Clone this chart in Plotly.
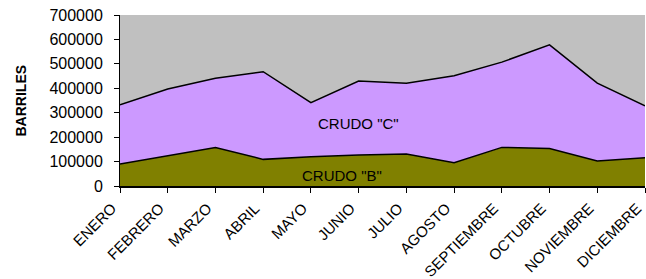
import plotly.graph_objects as go

months = ["ENERO", "FEBRERO", "MARZO", "ABRIL", "MAYO", "JUNIO", "JULIO",
          "AGOSTO", "SEPTIEMBRE", "OCTUBRE", "NOVIEMBRE", "DICIEMBRE"]
crudo_b = [90000, 124000, 158000, 109000, 120000, 127000, 131000,
           95500, 158000, 153000, 102000, 116000]
crudo_c = [242000, 273000, 283000, 359000, 221000, 303000, 290000,
           355500, 349000, 425000, 319000, 212000]
y_ticks = [0, 100000, 200000, 300000, 400000, 500000, 600000, 700000]

FONT = "Liberation Sans, Arial, sans-serif"
W, H = 646, 279
L, R, T, B = 120, 1, 15, 93

fig = go.Figure()
fig.add_trace(go.Scatter(x=months, y=crudo_b, name='CRUDO "B"', stackgroup="one",
                         mode="lines", line=dict(color="black", width=1.5),
                         fillcolor="#808000"))
fig.add_trace(go.Scatter(x=months, y=crudo_c, name='CRUDO "C"', stackgroup="one",
                         mode="lines", line=dict(color="black", width=1.5),
                         fillcolor="#CC99FF"))

fig.add_annotation(x=5, y=255000, text='CRUDO "C"', showarrow=False,
                   font=dict(family=FONT, size=15, color="black"))
fig.add_annotation(x=4.65, y=42000, text='CRUDO "B"', showarrow=False,
                   font=dict(family=FONT, size=15, color="black"))

plot_w = W - L - R
fig.add_annotation(xref="paper", yref="paper", x=(20 - L) / plot_w, y=0.5,
                   text="<b>BARRILES</b>", textangle=-90, showarrow=False,
                   xanchor="center", yanchor="middle",
                   font=dict(family=FONT, size=14, color="black"))

fig.update_layout(
    width=W, height=H,
    margin=dict(l=L, r=R, t=T, b=B, autoexpand=False),
    paper_bgcolor="white",
    plot_bgcolor="#C0C0C0",
    showlegend=False,
    font=dict(family=FONT, size=15, color="black"),
    xaxis=dict(type="category", range=[0, 11], showgrid=False, automargin=False,
               ticks="outside", ticklen=5, tickcolor="black",
               showline=True, linecolor="black", linewidth=1.5,
               tickangle=-45, tickfont=dict(size=15), ticklabelshift=-8,
               ticklabelstandoff=1),
    yaxis=dict(range=[0, 700000], tickvals=y_ticks, tickformat="d",
               showgrid=False, zeroline=False, automargin=False,
               ticks="outside", ticklen=5, tickcolor="black",
               showline=True, linecolor="black", linewidth=1,
               tickfont=dict(size=16), ticklabelstandoff=8),
)

fig.write_html("out.html", config={"displayModeBar": False},
               post_script="document.body.style.margin='0';document.body.style.overflow='hidden';")
